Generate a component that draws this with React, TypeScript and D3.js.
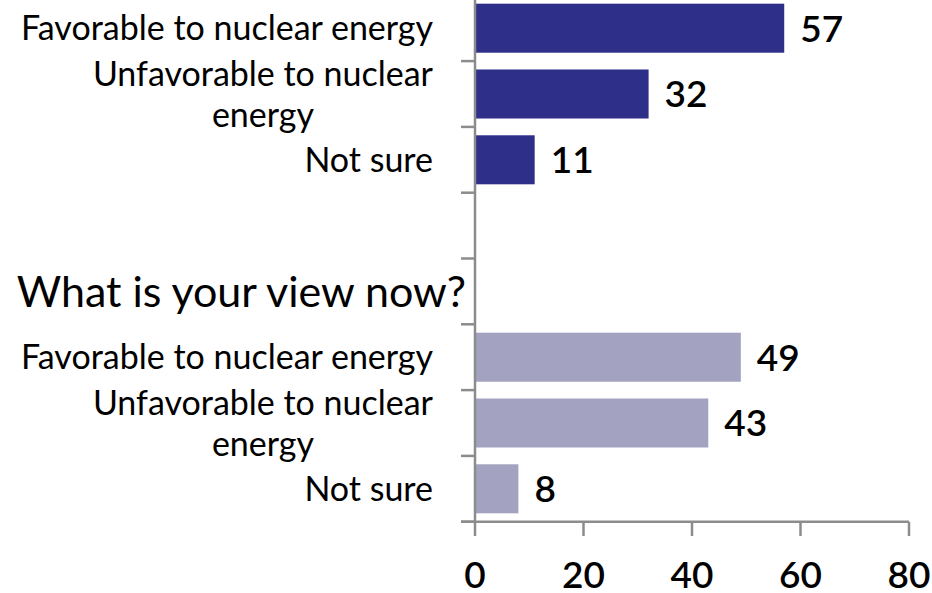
import React, { useEffect, useRef } from "react";
import * as d3 from "d3";

const responseLines: string[][] = [
  ["Favorable to nuclear energy"],
  ["Unfavorable to nuclear", "energy"],
  ["Not sure"],
];
const earlierValues = [57, 32, 11];
const nowValues = [49, 43, 8];
const nowQuestion = "What is your view now?";
const xTicks = [0, 20, 40, 60, 80];

const W = 932;
const H = 593;
const FONT = "Lato, 'Open Sans', sans-serif";
const DARK = "#2E2F88";
const LIGHT = "#A3A3C1";
const AXIS = "#8C8C8C";

type Slot = { key: string; lines: string[] | null; value: number | null; color: string; header?: string };

const slots: Slot[] = [
  ...responseLines.map((l, i) => ({ key: "a" + i, lines: l, value: earlierValues[i], color: DARK })),
  { key: "gap", lines: null, value: null, color: DARK },
  { key: "q", lines: null, value: null, color: LIGHT, header: nowQuestion },
  ...responseLines.map((l, i) => ({ key: "b" + i, lines: l, value: nowValues[i], color: LIGHT })),
];

export default function App() {
  const ref = useRef<SVGSVGElement | null>(null);

  useEffect(() => {
    const svg = d3.select(ref.current);
    svg.selectAll("*").remove();

    const x = d3.scaleLinear().domain([0, 80]).range([475, 909]);
    const y = d3
      .scaleBand<string>()
      .domain(slots.map((s) => s.key))
      .range([-4.7, 521.7])
      .paddingInner(0.255)
      .paddingOuter(0.1275);
    const step = y.step();
    const top = -4.7;

    // bars
    svg
      .append("g")
      .selectAll("rect")
      .data(slots.filter((s) => s.value !== null))
      .join("rect")
      .attr("x", x(0))
      .attr("y", (d) => y(d.key)!)
      .attr("width", (d) => x(d.value!) - x(0))
      .attr("height", y.bandwidth())
      .attr("fill", (d) => d.color);

    // value labels
    svg
      .append("g")
      .selectAll("text")
      .data(slots.filter((s) => s.value !== null))
      .join("text")
      .attr("x", (d) => x(d.value!) + 16)
      .attr("y", (d) => y(d.key)! + y.bandwidth() / 2)
      .attr("dy", "0.36em")
      .attr("font-family", FONT)
      .attr("font-size", 37)
      .attr("font-weight", 600)
      .attr("fill", "#000")
      .text((d) => String(d.value));

    // y axis
    const ya = svg.append("g");
    ya.append("line")
      .attr("x1", x(0))
      .attr("x2", x(0))
      .attr("y1", 0)
      .attr("y2", 521.7)
      .attr("stroke", AXIS)
      .attr("stroke-width", 2.5);
    const yTicks = d3.range(0, slots.length + 1).map((i) => top + i * step);
    ya.selectAll("line.t")
      .data(yTicks.filter((v) => v > 0))
      .join("line")
      .attr("class", "t")
      .attr("x1", x(0) - 14)
      .attr("x2", x(0))
      .attr("y1", (d) => d)
      .attr("y2", (d) => d)
      .attr("stroke", AXIS)
      .attr("stroke-width", 2.5);

    // x axis
    const xa = svg.append("g");
    xa.append("line")
      .attr("x1", x(0) - 14)
      .attr("x2", x(80))
      .attr("y1", 521.7)
      .attr("y2", 521.7)
      .attr("stroke", AXIS)
      .attr("stroke-width", 2.5);
    xa.selectAll("line.t")
      .data(xTicks)
      .join("line")
      .attr("class", "t")
      .attr("x1", (d) => x(d))
      .attr("x2", (d) => x(d))
      .attr("y1", 521.7)
      .attr("y2", 536)
      .attr("stroke", AXIS)
      .attr("stroke-width", 2.5);
    xa.selectAll("text")
      .data(xTicks)
      .join("text")
      .attr("x", (d) => x(d))
      .attr("y", 575)
      .attr("dy", "0.36em")
      .attr("text-anchor", "middle")
      .attr("font-family", FONT)
      .attr("font-size", 37)
      .attr("font-weight", 600)
      .attr("fill", "#000")
      .text((d) => String(d));

    // category labels
    const labelRight = 433;
    const lineH = 41;
    slots.forEach((s) => {
      const cy = y(s.key)! + y.bandwidth() / 2;
      if (s.header) {
        svg
          .append("text")
          .attr("x", 466)
          .attr("y", cy)
          .attr("dy", "0.36em")
          .attr("text-anchor", "end")
          .attr("font-family", FONT)
          .attr("font-size", 43)
          .attr("fill", "#000")
          .text(s.header);
        return;
      }
      if (!s.lines) return;
      const g = svg.append("g");
      const texts = s.lines.map((ln, i) =>
        g
          .append("text")
          .attr("y", cy + (i - (s.lines!.length - 1) / 2) * lineH)
          .attr("dy", "0.36em")
          .attr("text-anchor", "middle")
          .attr("font-family", FONT)
          .attr("font-size", 34)
          .attr("fill", "#000")
          .text(ln)
      );
      const widths = texts.map((t) => (t.node() as SVGTextElement).getComputedTextLength());
      const maxW = Math.max(...widths);
      texts.forEach((t) => t.attr("x", labelRight - maxW / 2));
    });
  }, []);

  return (
    <svg
      ref={ref}
      width={W}
      height={H}
      style={{ position: "absolute", left: 0, top: 0, background: "#fff" }}
    />
  );
}
